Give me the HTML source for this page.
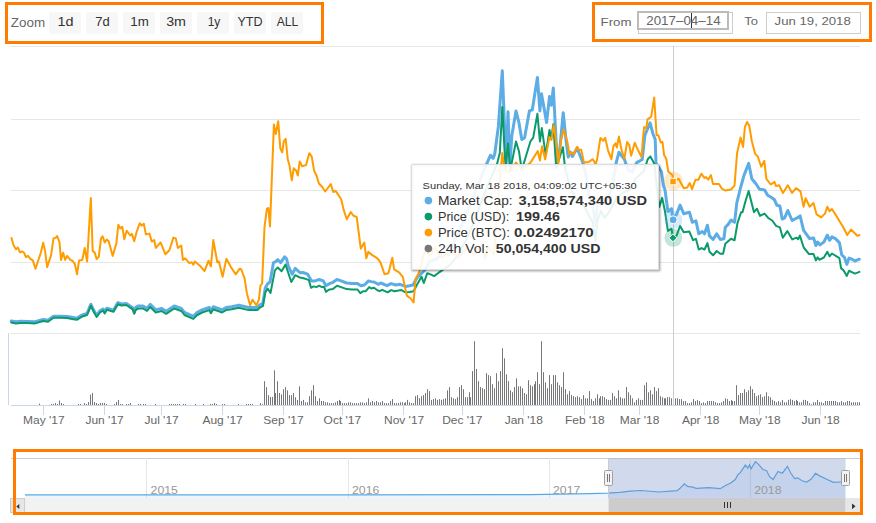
<!DOCTYPE html>
<html><head><meta charset="utf-8">
<style>
html,body{margin:0;padding:0;background:#fff;width:876px;height:523px;overflow:hidden;}
body{position:relative;font-family:"Liberation Sans",sans-serif;}
.abs{position:absolute;}
.obox{position:absolute;border:3px solid #ff7c00;box-sizing:border-box;}
.btn{position:absolute;top:12px;width:32px;height:22px;background:#f7f7f7;border-radius:2px;color:#333;font-size:12px;line-height:22px;text-align:center;}
.lbl{position:absolute;color:#666;font-size:12px;}
svg{position:absolute;left:0;top:0;}
.tt{position:absolute;font-size:12px;color:#333;white-space:nowrap;}
.tt b{font-weight:bold;}
.dot{display:inline-block;width:8px;height:8px;border-radius:50%;margin-right:5px;vertical-align:0px;}
</style></head><body>
<svg width="876" height="523" viewBox="0 0 876 523">
<rect x="11" y="46" width="849" height="1" fill="#e6e6e6"/><rect x="11" y="119" width="849" height="1" fill="#e6e6e6"/><rect x="11" y="190" width="849" height="1" fill="#e6e6e6"/><rect x="11" y="262" width="849" height="1" fill="#e6e6e6"/><rect x="11" y="333" width="849" height="1" fill="#e6e6e6"/>
<g fill="#777"><rect x="39" y="403.7" width="1" height="1.3"/><rect x="51" y="404.0" width="1" height="1.0"/><rect x="53" y="404.0" width="1" height="1.0"/><rect x="55" y="403.0" width="1" height="2.0"/><rect x="57" y="404.0" width="1" height="1.0"/><rect x="59" y="400.5" width="1" height="4.5"/><rect x="61" y="403.0" width="1" height="2.0"/><rect x="63" y="404.0" width="1" height="1.0"/><rect x="78" y="404.0" width="1" height="1.0"/><rect x="80" y="404.0" width="1" height="1.0"/><rect x="84" y="403.0" width="1" height="2.0"/><rect x="86" y="404.0" width="1" height="1.0"/><rect x="88" y="402.0" width="1" height="3.0"/><rect x="90" y="394.6" width="1" height="10.4"/><rect x="92" y="392.9" width="1" height="12.1"/><rect x="94" y="402.0" width="1" height="3.0"/><rect x="96" y="403.0" width="1" height="2.0"/><rect x="98" y="404.0" width="1" height="1.0"/><rect x="100" y="403.0" width="1" height="2.0"/><rect x="102" y="403.0" width="1" height="2.0"/><rect x="104" y="403.0" width="1" height="2.0"/><rect x="106" y="404.0" width="1" height="1.0"/><rect x="114" y="404.0" width="1" height="1.0"/><rect x="116" y="402.0" width="1" height="3.0"/><rect x="118" y="400.0" width="1" height="5.0"/><rect x="120" y="404.0" width="1" height="1.0"/><rect x="122" y="404.0" width="1" height="1.0"/><rect x="126" y="404.0" width="1" height="1.0"/><rect x="128" y="404.0" width="1" height="1.0"/><rect x="130" y="403.0" width="1" height="2.0"/><rect x="138" y="404.0" width="1" height="1.0"/><rect x="140" y="404.0" width="1" height="1.0"/><rect x="143" y="404.0" width="1" height="1.0"/><rect x="145" y="404.0" width="1" height="1.0"/><rect x="155" y="404.0" width="1" height="1.0"/><rect x="169" y="404.0" width="1" height="1.0"/><rect x="171" y="404.0" width="1" height="1.0"/><rect x="173" y="404.0" width="1" height="1.0"/><rect x="175" y="404.0" width="1" height="1.0"/><rect x="177" y="404.0" width="1" height="1.0"/><rect x="179" y="404.0" width="1" height="1.0"/><rect x="183" y="404.0" width="1" height="1.0"/><rect x="185" y="404.0" width="1" height="1.0"/><rect x="195" y="404.0" width="1" height="1.0"/><rect x="203" y="404.0" width="1" height="1.0"/><rect x="210" y="404.0" width="1" height="1.0"/><rect x="212" y="404.0" width="1" height="1.0"/><rect x="214" y="403.0" width="1" height="2.0"/><rect x="216" y="404.0" width="1" height="1.0"/><rect x="222" y="404.0" width="1" height="1.0"/><rect x="224" y="404.0" width="1" height="1.0"/><rect x="238" y="404.0" width="1" height="1.0"/><rect x="246" y="404.0" width="1" height="1.0"/><rect x="248" y="404.0" width="1" height="1.0"/><rect x="250" y="404.0" width="1" height="1.0"/><rect x="252" y="404.0" width="1" height="1.0"/><rect x="260" y="403.1" width="1" height="1.9"/><rect x="262" y="404.2" width="1" height="0.8"/><rect x="264" y="381.2" width="1" height="23.8"/><rect x="266" y="387.1" width="1" height="17.9"/><rect x="268" y="395.1" width="1" height="9.9"/><rect x="270" y="397.0" width="1" height="8.0"/><rect x="272" y="397.0" width="1" height="8.0"/><rect x="274" y="370.3" width="1" height="34.7"/><rect x="275" y="393.0" width="1" height="12.0"/><rect x="277" y="381.2" width="1" height="23.8"/><rect x="279" y="393.0" width="1" height="12.0"/><rect x="281" y="394.3" width="1" height="10.7"/><rect x="283" y="389.2" width="1" height="15.8"/><rect x="285" y="387.1" width="1" height="17.9"/><rect x="287" y="390.3" width="1" height="14.7"/><rect x="289" y="395.1" width="1" height="9.9"/><rect x="291" y="395.1" width="1" height="9.9"/><rect x="293" y="393.0" width="1" height="12.0"/><rect x="295" y="397.2" width="1" height="7.8"/><rect x="297" y="399.9" width="1" height="5.1"/><rect x="299" y="386.3" width="1" height="18.7"/><rect x="301" y="401.0" width="1" height="4.0"/><rect x="303" y="399.9" width="1" height="5.1"/><rect x="305" y="402.3" width="1" height="2.7"/><rect x="307" y="402.3" width="1" height="2.7"/><rect x="309" y="396.2" width="1" height="8.8"/><rect x="311" y="390.3" width="1" height="14.7"/><rect x="313" y="385.2" width="1" height="19.8"/><rect x="315" y="396.2" width="1" height="8.8"/><rect x="317" y="401.0" width="1" height="4.0"/><rect x="319" y="398.3" width="1" height="6.7"/><rect x="321" y="401.0" width="1" height="4.0"/><rect x="323" y="401.0" width="1" height="4.0"/><rect x="325" y="402.3" width="1" height="2.7"/><rect x="327" y="402.3" width="1" height="2.7"/><rect x="329" y="403.1" width="1" height="1.9"/><rect x="331" y="403.1" width="1" height="1.9"/><rect x="333" y="403.1" width="1" height="1.9"/><rect x="335" y="402.3" width="1" height="2.7"/><rect x="337" y="401.0" width="1" height="4.0"/><rect x="339" y="399.9" width="1" height="5.1"/><rect x="340" y="401.0" width="1" height="4.0"/><rect x="342" y="403.1" width="1" height="1.9"/><rect x="344" y="403.1" width="1" height="1.9"/><rect x="346" y="403.1" width="1" height="1.9"/><rect x="348" y="402.3" width="1" height="2.7"/><rect x="350" y="402.3" width="1" height="2.7"/><rect x="352" y="403.1" width="1" height="1.9"/><rect x="354" y="403.1" width="1" height="1.9"/><rect x="356" y="403.1" width="1" height="1.9"/><rect x="358" y="403.1" width="1" height="1.9"/><rect x="360" y="402.3" width="1" height="2.7"/><rect x="362" y="402.3" width="1" height="2.7"/><rect x="364" y="403.1" width="1" height="1.9"/><rect x="366" y="402.3" width="1" height="2.7"/><rect x="368" y="398.3" width="1" height="6.7"/><rect x="370" y="402.3" width="1" height="2.7"/><rect x="372" y="401.0" width="1" height="4.0"/><rect x="374" y="402.3" width="1" height="2.7"/><rect x="376" y="401.0" width="1" height="4.0"/><rect x="378" y="402.3" width="1" height="2.7"/><rect x="380" y="402.3" width="1" height="2.7"/><rect x="382" y="401.0" width="1" height="4.0"/><rect x="384" y="403.1" width="1" height="1.9"/><rect x="386" y="403.1" width="1" height="1.9"/><rect x="388" y="403.1" width="1" height="1.9"/><rect x="390" y="401.0" width="1" height="4.0"/><rect x="392" y="399.1" width="1" height="5.9"/><rect x="394" y="403.1" width="1" height="1.9"/><rect x="396" y="403.1" width="1" height="1.9"/><rect x="398" y="403.1" width="1" height="1.9"/><rect x="400" y="402.3" width="1" height="2.7"/><rect x="402" y="402.3" width="1" height="2.7"/><rect x="404" y="403.1" width="1" height="1.9"/><rect x="405" y="402.3" width="1" height="2.7"/><rect x="407" y="399.9" width="1" height="5.1"/><rect x="409" y="402.3" width="1" height="2.7"/><rect x="411" y="403.1" width="1" height="1.9"/><rect x="413" y="403.1" width="1" height="1.9"/><rect x="415" y="396.2" width="1" height="8.8"/><rect x="417" y="395.1" width="1" height="9.9"/><rect x="419" y="398.3" width="1" height="6.7"/><rect x="421" y="396.2" width="1" height="8.8"/><rect x="423" y="395.1" width="1" height="9.9"/><rect x="425" y="393.0" width="1" height="12.0"/><rect x="427" y="389.2" width="1" height="15.8"/><rect x="429" y="391.1" width="1" height="13.9"/><rect x="431" y="399.9" width="1" height="5.1"/><rect x="433" y="399.1" width="1" height="5.9"/><rect x="435" y="398.3" width="1" height="6.7"/><rect x="437" y="399.9" width="1" height="5.1"/><rect x="439" y="399.1" width="1" height="5.9"/><rect x="441" y="399.9" width="1" height="5.1"/><rect x="443" y="399.1" width="1" height="5.9"/><rect x="445" y="398.3" width="1" height="6.7"/><rect x="447" y="390.3" width="1" height="14.7"/><rect x="449" y="387.1" width="1" height="17.9"/><rect x="451" y="397.2" width="1" height="7.8"/><rect x="453" y="398.3" width="1" height="6.7"/><rect x="455" y="399.1" width="1" height="5.9"/><rect x="457" y="397.2" width="1" height="7.8"/><rect x="459" y="387.1" width="1" height="17.9"/><rect x="461" y="385.2" width="1" height="19.8"/><rect x="463" y="389.2" width="1" height="15.8"/><rect x="465" y="397.2" width="1" height="7.8"/><rect x="467" y="397.2" width="1" height="7.8"/><rect x="469" y="392.2" width="1" height="12.8"/><rect x="470" y="397.2" width="1" height="7.8"/><rect x="472" y="371.1" width="1" height="33.9"/><rect x="474" y="341.2" width="1" height="63.8"/><rect x="476" y="369.0" width="1" height="36.0"/><rect x="478" y="381.2" width="1" height="23.8"/><rect x="480" y="387.1" width="1" height="17.9"/><rect x="482" y="388.2" width="1" height="16.8"/><rect x="484" y="389.2" width="1" height="15.8"/><rect x="486" y="373.2" width="1" height="31.8"/><rect x="488" y="375.1" width="1" height="29.9"/><rect x="490" y="376.2" width="1" height="28.8"/><rect x="492" y="384.2" width="1" height="20.8"/><rect x="494" y="388.2" width="1" height="16.8"/><rect x="496" y="373.2" width="1" height="31.8"/><rect x="498" y="381.2" width="1" height="23.8"/><rect x="500" y="371.1" width="1" height="33.9"/><rect x="502" y="348.3" width="1" height="56.7"/><rect x="504" y="358.3" width="1" height="46.7"/><rect x="506" y="374.3" width="1" height="30.7"/><rect x="508" y="381.2" width="1" height="23.8"/><rect x="510" y="390.3" width="1" height="14.7"/><rect x="512" y="392.2" width="1" height="12.8"/><rect x="514" y="387.1" width="1" height="17.9"/><rect x="516" y="378.3" width="1" height="26.7"/><rect x="518" y="386.3" width="1" height="18.7"/><rect x="520" y="386.3" width="1" height="18.7"/><rect x="522" y="388.2" width="1" height="16.8"/><rect x="524" y="393.0" width="1" height="12.0"/><rect x="526" y="394.3" width="1" height="10.7"/><rect x="528" y="380.2" width="1" height="24.8"/><rect x="530" y="385.2" width="1" height="19.8"/><rect x="532" y="386.3" width="1" height="18.7"/><rect x="534" y="384.2" width="1" height="20.8"/><rect x="535" y="381.2" width="1" height="23.8"/><rect x="537" y="372.2" width="1" height="32.8"/><rect x="539" y="384.2" width="1" height="20.8"/><rect x="541" y="341.2" width="1" height="63.8"/><rect x="543" y="372.2" width="1" height="32.8"/><rect x="545" y="382.3" width="1" height="22.7"/><rect x="547" y="388.2" width="1" height="16.8"/><rect x="549" y="375.1" width="1" height="29.9"/><rect x="551" y="384.2" width="1" height="20.8"/><rect x="553" y="375.1" width="1" height="29.9"/><rect x="555" y="375.1" width="1" height="29.9"/><rect x="557" y="382.3" width="1" height="22.7"/><rect x="559" y="385.2" width="1" height="19.8"/><rect x="561" y="387.1" width="1" height="17.9"/><rect x="563" y="372.2" width="1" height="32.8"/><rect x="565" y="389.2" width="1" height="15.8"/><rect x="567" y="394.3" width="1" height="10.7"/><rect x="569" y="391.1" width="1" height="13.9"/><rect x="571" y="395.1" width="1" height="9.9"/><rect x="573" y="396.2" width="1" height="8.8"/><rect x="575" y="397.2" width="1" height="7.8"/><rect x="577" y="396.2" width="1" height="8.8"/><rect x="579" y="397.2" width="1" height="7.8"/><rect x="581" y="399.1" width="1" height="5.9"/><rect x="583" y="395.1" width="1" height="9.9"/><rect x="585" y="398.3" width="1" height="6.7"/><rect x="587" y="398.3" width="1" height="6.7"/><rect x="589" y="391.1" width="1" height="13.9"/><rect x="591" y="399.1" width="1" height="5.9"/><rect x="593" y="401.0" width="1" height="4.0"/><rect x="595" y="398.3" width="1" height="6.7"/><rect x="597" y="394.3" width="1" height="10.7"/><rect x="599" y="398.3" width="1" height="6.7"/><rect x="600" y="396.2" width="1" height="8.8"/><rect x="602" y="396.2" width="1" height="8.8"/><rect x="604" y="397.2" width="1" height="7.8"/><rect x="606" y="399.1" width="1" height="5.9"/><rect x="608" y="399.9" width="1" height="5.1"/><rect x="610" y="399.9" width="1" height="5.1"/><rect x="612" y="393.0" width="1" height="12.0"/><rect x="614" y="396.2" width="1" height="8.8"/><rect x="616" y="398.3" width="1" height="6.7"/><rect x="618" y="390.3" width="1" height="14.7"/><rect x="620" y="397.2" width="1" height="7.8"/><rect x="622" y="398.3" width="1" height="6.7"/><rect x="624" y="398.3" width="1" height="6.7"/><rect x="626" y="387.1" width="1" height="17.9"/><rect x="628" y="392.2" width="1" height="12.8"/><rect x="630" y="395.1" width="1" height="9.9"/><rect x="632" y="398.3" width="1" height="6.7"/><rect x="634" y="402.3" width="1" height="2.7"/><rect x="636" y="399.9" width="1" height="5.1"/><rect x="638" y="398.3" width="1" height="6.7"/><rect x="640" y="399.9" width="1" height="5.1"/><rect x="642" y="399.9" width="1" height="5.1"/><rect x="644" y="385.2" width="1" height="19.8"/><rect x="646" y="382.3" width="1" height="22.7"/><rect x="648" y="392.2" width="1" height="12.8"/><rect x="650" y="390.3" width="1" height="14.7"/><rect x="652" y="394.3" width="1" height="10.7"/><rect x="654" y="387.1" width="1" height="17.9"/><rect x="656" y="391.1" width="1" height="13.9"/><rect x="658" y="388.2" width="1" height="16.8"/><rect x="660" y="396.2" width="1" height="8.8"/><rect x="662" y="397.2" width="1" height="7.8"/><rect x="664" y="398.3" width="1" height="6.7"/><rect x="665" y="398.3" width="1" height="6.7"/><rect x="667" y="397.2" width="1" height="7.8"/><rect x="669" y="397.2" width="1" height="7.8"/><rect x="671" y="398.3" width="1" height="6.7"/><rect x="673" y="399.9" width="1" height="5.1"/><rect x="675" y="398.3" width="1" height="6.7"/><rect x="677" y="398.3" width="1" height="6.7"/><rect x="679" y="399.1" width="1" height="5.9"/><rect x="681" y="399.1" width="1" height="5.9"/><rect x="683" y="401.0" width="1" height="4.0"/><rect x="685" y="401.0" width="1" height="4.0"/><rect x="687" y="403.1" width="1" height="1.9"/><rect x="689" y="403.1" width="1" height="1.9"/><rect x="691" y="402.3" width="1" height="2.7"/><rect x="693" y="399.1" width="1" height="5.9"/><rect x="695" y="401.0" width="1" height="4.0"/><rect x="697" y="399.9" width="1" height="5.1"/><rect x="699" y="401.0" width="1" height="4.0"/><rect x="701" y="403.1" width="1" height="1.9"/><rect x="703" y="402.3" width="1" height="2.7"/><rect x="705" y="403.1" width="1" height="1.9"/><rect x="707" y="401.0" width="1" height="4.0"/><rect x="709" y="401.0" width="1" height="4.0"/><rect x="711" y="401.0" width="1" height="4.0"/><rect x="713" y="401.0" width="1" height="4.0"/><rect x="715" y="402.3" width="1" height="2.7"/><rect x="717" y="403.1" width="1" height="1.9"/><rect x="719" y="403.1" width="1" height="1.9"/><rect x="721" y="402.3" width="1" height="2.7"/><rect x="723" y="401.0" width="1" height="4.0"/><rect x="725" y="398.3" width="1" height="6.7"/><rect x="727" y="399.1" width="1" height="5.9"/><rect x="729" y="401.0" width="1" height="4.0"/><rect x="731" y="399.9" width="1" height="5.1"/><rect x="732" y="401.0" width="1" height="4.0"/><rect x="734" y="401.0" width="1" height="4.0"/><rect x="736" y="385.2" width="1" height="19.8"/><rect x="738" y="395.1" width="1" height="9.9"/><rect x="740" y="393.0" width="1" height="12.0"/><rect x="742" y="393.0" width="1" height="12.0"/><rect x="744" y="389.2" width="1" height="15.8"/><rect x="746" y="392.2" width="1" height="12.8"/><rect x="748" y="390.3" width="1" height="14.7"/><rect x="750" y="386.3" width="1" height="18.7"/><rect x="752" y="389.2" width="1" height="15.8"/><rect x="754" y="393.0" width="1" height="12.0"/><rect x="756" y="396.2" width="1" height="8.8"/><rect x="758" y="395.1" width="1" height="9.9"/><rect x="760" y="394.3" width="1" height="10.7"/><rect x="762" y="397.2" width="1" height="7.8"/><rect x="764" y="396.2" width="1" height="8.8"/><rect x="766" y="392.2" width="1" height="12.8"/><rect x="768" y="396.2" width="1" height="8.8"/><rect x="770" y="397.2" width="1" height="7.8"/><rect x="772" y="399.9" width="1" height="5.1"/><rect x="774" y="401.0" width="1" height="4.0"/><rect x="776" y="402.3" width="1" height="2.7"/><rect x="778" y="401.0" width="1" height="4.0"/><rect x="780" y="402.3" width="1" height="2.7"/><rect x="782" y="399.9" width="1" height="5.1"/><rect x="784" y="402.3" width="1" height="2.7"/><rect x="786" y="402.3" width="1" height="2.7"/><rect x="788" y="399.9" width="1" height="5.1"/><rect x="790" y="399.1" width="1" height="5.9"/><rect x="792" y="399.9" width="1" height="5.1"/><rect x="794" y="401.0" width="1" height="4.0"/><rect x="796" y="399.9" width="1" height="5.1"/><rect x="797" y="401.0" width="1" height="4.0"/><rect x="799" y="402.3" width="1" height="2.7"/><rect x="801" y="402.3" width="1" height="2.7"/><rect x="803" y="399.9" width="1" height="5.1"/><rect x="805" y="399.9" width="1" height="5.1"/><rect x="807" y="401.0" width="1" height="4.0"/><rect x="809" y="403.1" width="1" height="1.9"/><rect x="811" y="404.2" width="1" height="0.8"/><rect x="813" y="402.3" width="1" height="2.7"/><rect x="815" y="402.3" width="1" height="2.7"/><rect x="817" y="399.9" width="1" height="5.1"/><rect x="819" y="402.3" width="1" height="2.7"/><rect x="821" y="402.3" width="1" height="2.7"/><rect x="823" y="403.1" width="1" height="1.9"/><rect x="825" y="401.0" width="1" height="4.0"/><rect x="827" y="401.0" width="1" height="4.0"/><rect x="829" y="401.0" width="1" height="4.0"/><rect x="831" y="401.0" width="1" height="4.0"/><rect x="833" y="401.0" width="1" height="4.0"/><rect x="835" y="401.0" width="1" height="4.0"/><rect x="837" y="402.3" width="1" height="2.7"/><rect x="839" y="402.3" width="1" height="2.7"/><rect x="841" y="401.0" width="1" height="4.0"/><rect x="843" y="402.3" width="1" height="2.7"/><rect x="845" y="402.3" width="1" height="2.7"/><rect x="847" y="401.0" width="1" height="4.0"/><rect x="849" y="401.0" width="1" height="4.0"/><rect x="851" y="402.3" width="1" height="2.7"/><rect x="853" y="402.3" width="1" height="2.7"/><rect x="855" y="402.3" width="1" height="2.7"/><rect x="857" y="402.3" width="1" height="2.7"/><rect x="859" y="402.3" width="1" height="2.7"/></g>
<rect x="8" y="333" width="1" height="72" fill="#ccd6eb"/>
<rect x="11" y="405" width="849" height="1" fill="#ccd6eb"/>
<rect x="43" y="405" width="1" height="10" fill="#ccd6eb"/><rect x="104" y="405" width="1" height="10" fill="#ccd6eb"/><rect x="161" y="405" width="1" height="10" fill="#ccd6eb"/><rect x="222" y="405" width="1" height="10" fill="#ccd6eb"/><rect x="283" y="405" width="1" height="10" fill="#ccd6eb"/><rect x="342" y="405" width="1" height="10" fill="#ccd6eb"/><rect x="403" y="405" width="1" height="10" fill="#ccd6eb"/><rect x="462" y="405" width="1" height="10" fill="#ccd6eb"/><rect x="523" y="405" width="1" height="10" fill="#ccd6eb"/><rect x="584" y="405" width="1" height="10" fill="#ccd6eb"/><rect x="639" y="405" width="1" height="10" fill="#ccd6eb"/><rect x="700" y="405" width="1" height="10" fill="#ccd6eb"/><rect x="759" y="405" width="1" height="10" fill="#ccd6eb"/><rect x="820" y="405" width="1" height="10" fill="#ccd6eb"/>
<rect x="673" y="46" width="1" height="359" fill="#cccccc"/>
<g fill="none" stroke-linejoin="round" stroke-linecap="round">
<path d="M11.2 321.0 L16.0 321.8 L20.8 321.3 L27.2 321.4 L35.2 321.8 L43.2 319.4 L48.0 320.2 L53.5 316.2 L60.7 316.2 L67.1 316.5 L71.9 317.3 L76.7 318.2 L79.9 316.2 L83.1 314.6 L87.1 313.4 L90.8 304.2 L93.5 309.8 L96.7 315.4 L99.9 310.9 L103.1 309.0 L104.7 311.8 L106.8 308.2 L113.5 310.2 L117.9 302.6 L121.5 303.9 L126.3 303.4 L132.7 307.7 L134.2 312.2 L135.8 307.2 L138.2 305.9 L143.0 305.9 L147.0 308.4 L150.2 304.4 L155.8 309.9 L161.4 308.4 L166.2 311.2 L174.2 305.9 L181.3 308.4 L184.5 312.4 L193.3 316.3 L197.3 312.4 L202.1 309.9 L209.3 307.5 L210.9 310.7 L213.3 306.7 L222.1 309.9 L226.1 307.5 L231.7 306.7 L238.9 305.1 L248.5 307.5 L257.3 307.5 L259.7 305.1 L262.9 303.2 L265.3 287.8 L267.7 283.8 L270.0 282.0 L273.5 262.6 L275.8 261.6 L277.8 259.7 L280.7 262.6 L284.6 256.8 L286.5 258.7 L288.4 266.5 L292.3 274.3 L295.2 268.4 L300.0 272.7 L303.0 272.5 L307.5 274.1 L311.6 280.9 L315.1 280.9 L319.2 279.5 L323.3 280.9 L326.0 285.7 L329.5 283.6 L332.9 282.3 L337.0 279.5 L341.1 280.9 L346.6 283.0 L352.0 283.6 L357.5 283.6 L361.0 285.7 L364.4 285.0 L368.5 280.9 L371.2 281.6 L374.7 282.3 L378.1 284.3 L380.8 283.0 L387.0 285.7 L391.1 283.6 L395.9 285.0 L400.0 284.3 L405.5 286.4 L409.6 285.7 L413.0 285.0 L416.4 278.8 L418.0 276.7 L421.5 273.3 L424.9 270.0 L430.0 261.0 L437.0 259.0 L443.0 251.5 L449.0 255.0 L455.0 240.0 L462.0 225.0 L470.0 205.0 L478.0 185.0 L486.8 163.6 L490.5 155.2 L493.1 158.4 L494.7 154.2 L498.4 126.2 L502.3 70.7 L506.1 166.0 L508.0 111.8 L509.9 166.0 L511.8 135.7 L516.0 110.9 L518.9 122.4 L521.8 139.6 L524.6 137.7 L529.4 110.9 L532.3 109.9 L537.4 77.4 L539.9 110.9 L541.5 93.7 L546.6 122.4 L549.5 96.5 L551.4 105.2 L553.3 88.0 L557.1 160.0 L560.0 147.2 L563.2 112.7 L566.0 140.0 L568.2 157.0 L570.0 152.0 L572.4 156.5 L577.1 148.0 L582.6 162.0 L586.0 175.0 L589.0 195.0 L592.7 205.0 L595.5 225.0 L597.5 205.0 L601.0 197.0 L604.4 203.0 L608.5 197.0 L612.6 185.0 L616.2 162.6 L618.9 152.3 L624.4 159.2 L628.0 170.0 L632.0 172.0 L636.7 162.6 L642.2 159.5 L644.9 135.2 L650.1 122.8 L653.0 134.0 L655.2 139.3 L656.0 163.3 L661.4 171.5 L663.4 185.2 L665.0 190.0 L667.9 211.5 L671.5 208.7 L672.9 219.4 L676.5 214.4 L680.1 205.1 L683.7 213.7 L689.4 212.2 L692.3 222.3 L695.9 220.8 L698.8 233.8 L702.3 231.6 L704.5 233.8 L707.4 225.2 L709.5 235.9 L713.1 239.5 L716.7 233.8 L720.3 239.5 L723.9 238.8 L725.3 227.3 L728.2 224.4 L731.0 220.1 L734.6 222.3 L736.8 202.9 L740.6 187.5 L744.0 175.4 L748.7 163.4 L751.8 178.8 L756.1 184.0 L759.5 189.2 L764.6 189.9 L767.6 195.2 L771.5 197.5 L774.5 199.8 L776.8 205.2 L779.9 206.0 L782.2 219.0 L784.5 218.2 L787.8 210.5 L792.1 220.5 L796.7 218.2 L800.1 215.9 L803.6 230.4 L809.6 238.6 L813.6 238.0 L815.9 245.5 L817.6 242.0 L819.9 244.9 L823.9 242.0 L827.3 235.2 L829.6 240.3 L831.9 236.9 L835.4 238.6 L839.4 242.6 L841.7 254.7 L844.5 257.5 L846.8 264.4 L849.1 258.1 L852.0 259.2 L854.9 261.0 L859.4 259.2" stroke="#5cade6" stroke-width="3"/>
<path d="M11.2 322.6 L16.0 323.4 L20.8 322.9 L27.2 323.0 L35.2 323.4 L43.2 321.0 L48.0 321.8 L53.5 317.8 L60.7 317.8 L67.1 318.1 L71.9 318.9 L76.7 319.8 L79.9 317.8 L83.1 316.2 L87.1 315.0 L90.8 305.8 L93.5 311.4 L96.7 317.0 L99.9 312.5 L103.1 310.6 L104.7 313.4 L106.8 309.8 L113.5 311.8 L117.9 304.2 L121.5 305.5 L126.3 305.0 L132.7 309.3 L134.2 313.8 L135.8 309.8 L138.2 308.5 L143.0 308.5 L147.0 311.0 L150.2 307.0 L155.8 312.5 L161.4 311.0 L166.2 313.8 L174.2 308.5 L181.3 311.0 L184.5 315.0 L193.3 318.9 L197.3 315.0 L202.1 312.5 L209.3 310.1 L210.9 313.3 L213.3 309.3 L222.1 312.5 L226.1 310.1 L231.7 309.3 L238.9 307.7 L248.5 310.1 L257.3 310.1 L259.7 307.7 L262.9 306.1 L265.3 292.6 L267.7 288.6 L270.5 293.0 L274.9 270.4 L277.8 267.5 L281.6 271.3 L285.5 264.6 L288.4 273.3 L291.3 282.0 L295.2 275.2 L300.0 277.5 L305.5 278.8 L308.9 280.2 L311.0 287.8 L313.7 286.4 L316.4 287.1 L319.2 285.7 L321.9 287.1 L324.0 286.8 L326.0 291.9 L328.8 289.8 L332.9 289.1 L337.0 285.7 L341.1 287.1 L346.6 289.1 L352.0 289.5 L357.5 289.5 L360.3 293.2 L363.0 291.2 L365.8 291.2 L369.2 287.1 L371.2 288.4 L374.0 287.8 L376.7 289.8 L379.5 291.2 L382.2 289.8 L387.7 292.3 L391.1 290.1 L394.5 291.2 L398.6 290.5 L401.4 290.1 L405.5 292.3 L409.6 291.9 L413.7 291.2 L416.4 285.7 L421.5 276.7 L423.8 283.0 L427.2 273.3 L430.6 274.4 L434.1 276.1 L438.7 272.7 L442.7 270.0 L450.0 265.0 L458.0 255.0 L466.0 240.0 L474.0 222.0 L482.0 200.0 L490.0 180.0 L496.9 164.4 L499.8 153.0 L502.3 107.1 L505.5 168.0 L508.0 143.4 L510.3 170.0 L516.0 141.5 L518.9 151.0 L521.8 170.0 L530.4 141.5 L533.2 137.7 L537.4 113.8 L539.9 141.5 L541.8 128.1 L545.7 154.9 L549.5 130.0 L551.4 137.7 L553.3 124.3 L556.2 168.0 L562.9 147.2 L565.0 168.0 L568.0 180.0 L572.0 192.0 L576.0 198.0 L580.0 200.0 L585.2 208.2 L589.3 216.4 L592.7 221.9 L595.5 241.0 L597.5 220.5 L601.0 211.0 L604.4 217.8 L608.5 213.0 L612.6 205.5 L617.0 197.0 L624.0 192.0 L630.0 190.0 L636.0 178.0 L644.0 171.0 L647.7 159.2 L650.4 156.4 L654.5 164.0 L657.0 190.0 L659.3 207.0 L662.2 197.9 L665.0 211.5 L667.9 230.9 L671.5 228.7 L672.9 238.1 L676.5 235.9 L680.1 225.9 L683.7 232.3 L689.4 231.6 L693.0 240.2 L695.9 238.8 L698.8 249.5 L701.6 248.1 L704.5 249.5 L707.4 243.1 L709.5 251.7 L713.1 255.3 L716.7 251.0 L720.3 253.8 L723.1 253.8 L725.3 243.8 L731.0 238.8 L734.6 240.2 L737.5 223.0 L741.1 212.2 L742.5 212.2 L745.4 201.5 L748.6 191.0 L754.0 212.2 L756.9 208.7 L760.0 215.9 L764.6 213.6 L768.4 218.2 L772.2 220.5 L776.1 225.8 L779.9 227.4 L782.8 237.7 L787.3 231.1 L792.3 239.4 L796.5 237.6 L798.1 239.2 L799.9 235.6 L803.7 247.5 L809.0 254.1 L813.6 254.1 L815.9 260.4 L817.6 257.3 L819.3 259.8 L823.9 257.5 L827.3 251.8 L829.6 256.4 L831.9 253.5 L839.4 258.1 L841.1 268.4 L843.4 270.1 L846.8 275.9 L849.1 270.7 L851.4 271.9 L854.9 273.6 L859.4 271.9" stroke="#0a9a6b" stroke-width="2"/>
<path d="M11.5 238.0 L13.6 245.5 L16.0 249.2 L17.9 247.6 L20.0 252.4 L22.4 251.5 L24.0 252.7 L25.9 257.2 L28.0 255.9 L30.4 258.8 L32.8 260.4 L35.5 268.7 L38.4 260.0 L40.8 252.7 L43.2 242.8 L45.1 251.1 L47.1 267.1 L51.1 255.1 L53.5 238.4 L55.9 237.6 L57.2 236.0 L59.5 242.4 L61.0 259.9 L63.1 252.7 L65.2 259.9 L67.1 255.9 L70.3 259.9 L72.7 261.0 L74.8 263.9 L77.0 274.3 L79.1 260.4 L82.3 259.9 L84.7 248.0 L87.1 261.5 L90.8 198.0 L92.7 251.1 L94.6 252.4 L96.7 259.1 L98.8 256.7 L101.0 238.4 L102.6 236.4 L104.7 242.4 L106.8 239.6 L108.7 241.2 L112.7 255.9 L116.4 243.2 L118.3 224.8 L120.2 228.4 L122.3 226.8 L124.3 239.2 L126.6 230.7 L130.3 235.5 L131.9 233.9 L134.2 241.2 L136.6 232.0 L139.8 223.2 L141.7 225.6 L143.8 223.7 L145.9 234.4 L149.4 233.6 L151.8 241.6 L154.2 240.0 L155.8 247.9 L160.6 242.4 L165.4 254.3 L169.4 250.3 L173.4 237.6 L175.8 238.4 L177.8 247.9 L181.3 245.5 L182.9 259.9 L185.3 258.3 L189.3 263.1 L191.7 262.3 L193.3 264.7 L194.9 261.5 L200.5 266.3 L204.5 271.1 L208.5 260.7 L210.9 266.3 L213.3 240.0 L217.3 262.3 L218.9 261.5 L222.6 276.7 L226.4 258.8 L230.9 267.1 L235.7 274.3 L239.7 268.7 L241.3 269.5 L244.5 278.2 L246.9 293.4 L250.1 305.3 L252.5 299.7 L256.5 305.3 L258.9 299.7 L260.5 285.4 L262.1 283.8 L264.5 227.2 L266.9 208.8 L268.4 208.0 L270.0 226.4 L273.9 124.4 L275.8 134.0 L278.2 121.2 L280.3 148.4 L282.2 152.4 L283.8 141.2 L285.7 138.8 L287.8 159.5 L289.4 165.1 L291.8 180.3 L293.7 168.3 L296.2 170.7 L297.8 175.5 L299.7 161.5 L302.1 166.3 L306.1 165.1 L309.3 153.2 L311.7 156.3 L314.1 170.7 L316.5 175.5 L318.9 183.5 L322.1 186.7 L325.2 191.5 L330.8 184.0 L333.2 192.0 L335.6 190.9 L341.2 199.2 L343.6 209.6 L346.8 219.2 L350.8 212.0 L353.2 215.5 L356.7 217.1 L360.8 248.7 L364.3 242.6 L366.3 258.3 L368.3 251.9 L372.3 255.1 L376.7 257.8 L378.7 259.9 L380.6 262.6 L384.5 274.3 L388.4 273.3 L392.3 257.8 L394.2 269.4 L399.1 272.3 L402.9 277.2 L406.8 295.6 L410.7 298.5 L413.6 302.4 L415.5 279.1 L419.7 271.0 L420.4 267.5 L425.0 250.0 L430.0 256.0 L435.0 248.0 L442.0 258.0 L450.0 250.0 L458.0 258.0 L466.0 248.0 L474.0 255.0 L482.0 244.0 L485.0 259.0 L488.0 246.0 L494.0 255.0 L498.0 200.0 L502.3 153.0 L504.6 170.0 L510.0 172.0 L516.0 162.5 L522.0 170.0 L530.5 162.6 L537.8 151.0 L539.9 160.5 L542.0 146.3 L545.2 159.4 L549.4 137.3 L551.5 140.0 L553.6 125.2 L555.7 139.4 L558.3 163.6 L561.0 140.5 L563.6 129.5 L567.3 141.5 L569.4 154.2 L571.6 152.3 L573.7 154.4 L577.1 146.8 L579.2 150.3 L581.2 149.6 L584.0 162.6 L588.8 161.9 L592.9 159.2 L595.6 164.0 L597.0 159.9 L600.4 137.9 L603.2 140.7 L605.2 137.9 L608.0 150.3 L611.4 159.2 L613.4 146.2 L615.5 143.4 L616.8 147.5 L618.9 136.6 L621.6 150.3 L624.4 158.5 L627.1 142.1 L629.2 144.8 L631.2 155.8 L634.7 142.7 L638.1 150.3 L641.5 157.1 L643.3 134.7 L644.2 127.0 L646.3 128.4 L647.5 119.4 L651.2 116.8 L654.2 97.5 L656.6 135.2 L658.4 135.2 L660.7 142.4 L662.5 142.1 L664.1 155.1 L666.2 158.5 L668.2 171.5 L672.3 174.9 L673.4 181.4 L678.6 178.8 L683.8 188.3 L687.2 187.5 L689.8 183.1 L692.0 189.2 L695.5 179.7 L698.4 179.7 L701.3 173.7 L704.4 178.0 L706.1 177.1 L708.2 179.7 L711.0 175.1 L713.0 184.0 L719.0 184.0 L721.6 188.3 L725.1 190.5 L731.1 189.5 L734.5 185.7 L737.1 153.0 L740.6 137.5 L743.1 147.0 L744.9 127.2 L747.1 122.0 L749.2 125.5 L751.8 141.0 L755.2 153.9 L757.8 156.5 L761.2 166.8 L764.3 160.8 L766.4 178.8 L770.7 184.5 L774.5 181.9 L776.1 186.1 L779.1 185.3 L783.0 193.0 L787.8 185.3 L792.1 193.0 L796.0 188.1 L800.5 191.4 L803.6 206.7 L805.6 198.3 L809.7 206.7 L813.5 202.9 L816.6 214.4 L821.2 217.4 L825.0 213.6 L827.3 206.7 L829.6 211.3 L831.9 209.0 L837.3 217.4 L843.4 227.5 L847.2 235.0 L851.0 229.5 L857.2 235.8 L859.4 235.0" stroke="#ff9c00" stroke-width="2"/>
</g>
<circle cx="673.3" cy="181" r="9.5" fill="#ff9c00" fill-opacity="0.22"/>
<rect x="669.8" y="178.3" width="6.5" height="6.5" fill="#ff9c00" stroke="#fff" stroke-width="1"/>
<circle cx="673.4" cy="219.8" r="9" fill="#5cade6" fill-opacity="0.25"/>
<circle cx="673.1" cy="219.8" r="4" fill="#5cade6" stroke="#fff" stroke-width="1"/>
<circle cx="673.4" cy="237.8" r="9" fill="#0a9a6b" fill-opacity="0.25"/>
<path d="M673 233.8 L677 237.8 L673 241.8 L669 237.8 Z" fill="#0a9a6b" stroke="#fff" stroke-width="1"/>
<!-- tooltip -->
<g transform="translate(1,1)" fill="none" stroke="#000">
<rect x="411.5" y="164.5" width="247" height="105" rx="1" stroke-opacity="0.05" stroke-width="5"/>
<rect x="411.5" y="164.5" width="247" height="105" rx="1" stroke-opacity="0.1" stroke-width="3"/>
<rect x="411.5" y="164.5" width="247" height="105" rx="1" stroke-opacity="0.15" stroke-width="1"/>
</g>
<rect x="411.5" y="164.5" width="247" height="105" rx="1" fill="#fff" fill-opacity="0.9" stroke="#dddddd" stroke-width="1"/>
<!-- navigator -->
<rect x="11" y="458" width="849" height="1" fill="#cccccc"/>
<rect x="146" y="458" width="1" height="40" fill="#e6e6e6"/>
<rect x="348" y="458" width="1" height="40" fill="#e6e6e6"/>
<rect x="549" y="458" width="1" height="40" fill="#e6e6e6"/>
<rect x="750" y="458" width="1" height="40" fill="#e6e6e6"/>
<path d="M25.0 494.8 L146.0 494.8 L348.0 494.8 L530.0 494.6 L590.0 493.6 L607.9 493.2 L619.8 492.4 L630.2 491.2 L640.7 490.5 L658.6 492.0 L677.2 490.6 L680.0 488.3 L684.4 483.9 L687.5 486.4 L692.6 487.1 L696.3 488.3 L708.9 487.7 L720.2 488.7 L725.9 485.2 L730.3 483.3 L735.3 479.5 L738.0 474.5 L740.3 472.6 L745.3 465.1 L747.8 468.2 L749.5 464.8 L751.0 468.8 L755.4 461.6 L758.5 464.4 L762.9 469.5 L766.7 470.7 L769.4 476.4 L773.0 479.5 L778.0 471.4 L782.4 473.2 L787.4 466.3 L790.9 473.3 L794.6 478.5 L797.6 477.8 L802.1 480.8 L806.6 482.0 L811.0 479.3 L815.5 473.3 L819.2 475.6 L826.7 479.3 L833.4 482.3 L840.8 482.0 L845.0 482.0 L845 497.7 L25 497.7 Z" fill="#7cb5ec" fill-opacity="0.14"/>
<path d="M25.0 494.8 L146.0 494.8 L348.0 494.8 L530.0 494.6 L590.0 493.6 L607.9 493.2 L619.8 492.4 L630.2 491.2 L640.7 490.5 L658.6 492.0 L677.2 490.6 L680.0 488.3 L684.4 483.9 L687.5 486.4 L692.6 487.1 L696.3 488.3 L708.9 487.7 L720.2 488.7 L725.9 485.2 L730.3 483.3 L735.3 479.5 L738.0 474.5 L740.3 472.6 L745.3 465.1 L747.8 468.2 L749.5 464.8 L751.0 468.8 L755.4 461.6 L758.5 464.4 L762.9 469.5 L766.7 470.7 L769.4 476.4 L773.0 479.5 L778.0 471.4 L782.4 473.2 L787.4 466.3 L790.9 473.3 L794.6 478.5 L797.6 477.8 L802.1 480.8 L806.6 482.0 L811.0 479.3 L815.5 473.3 L819.2 475.6 L826.7 479.3 L833.4 482.3 L840.8 482.0 L845.0 482.0" fill="none" stroke="#5aa9e6" stroke-width="1.2"/>
<rect x="608.6" y="458.5" width="237" height="39.5" fill="#6685c2" fill-opacity="0.3"/>
<rect x="608" y="458" width="1" height="55" fill="#cccccc"/>
<!-- scrollbar -->
<rect x="24.7" y="498" width="821" height="14" fill="#f2f2f2"/>
<rect x="608.6" y="498" width="237" height="14" fill="#cccccc"/>
<rect x="10.5" y="498.5" width="14" height="14" fill="#e6e6e6" stroke="#cccccc"/>
<rect x="845.5" y="498" width="14.5" height="14.5" fill="#e6e6e6"/>
<path d="M16.3 506.4 L19.3 503.9 L19.3 508.9 Z" fill="#333"/>
<path d="M855.5 506.3 L852 503.5 L852 509.2 Z" fill="#333"/>
<rect x="724" y="502" width="1" height="6" fill="#333"/><rect x="727" y="502" width="1" height="6" fill="#333"/><rect x="730" y="502" width="1" height="6" fill="#333"/>
<rect x="604.5" y="470.5" width="8" height="15" rx="1" fill="#f2f2f2" stroke="#a0a0a0"/>
<rect x="607" y="474" width="1" height="8" fill="#777"/><rect x="609" y="474" width="1" height="8" fill="#777"/>
<rect x="841.5" y="470.5" width="8" height="15" rx="1" fill="#f2f2f2" stroke="#a0a0a0"/>
<rect x="844" y="474" width="1" height="8" fill="#777"/><rect x="846" y="474" width="1" height="8" fill="#777"/>
<!-- inputs -->
<rect x="638.5" y="12.5" width="94" height="21" fill="#fff" stroke="#cccccc"/>
<rect x="766.5" y="12.5" width="94" height="21" fill="#fff" stroke="#cccccc"/>
<rect x="638" y="12" width="90" height="17" fill="#fff" stroke="#bbbbbb" stroke-width="2"/>
<rect x="691" y="13" width="1" height="15" fill="#333"/>
</svg>
<div class="obox" style="left:5px;top:2px;width:319px;height:42px;"></div>
<div class="obox" style="left:592px;top:2px;width:280px;height:40px;"></div>
<div class="obox" style="left:13px;top:449px;width:850px;height:66px;"></div>
<div class="btn" style="left:49px;"></div>
<div class="btn" style="left:86px;"></div>
<div class="btn" style="left:123px;"></div>
<div class="btn" style="left:160px;"></div>
<div class="btn" style="left:197px;"></div>
<div class="btn" style="left:234px;"></div>
<div class="btn" style="left:271px;"></div>
<svg width="876" height="523" viewBox="0 0 876 523" style="position:absolute;left:0;top:0;"><text transform="translate(10.8,26.6) scale(1.1,1)" font-family="Liberation Sans" font-size="12.2" fill="#666" font-weight="normal" text-anchor="start">Zoom</text><text transform="translate(65.6,26) scale(1.2,1)" font-family="Liberation Sans" font-size="12" fill="#333" font-weight="normal" text-anchor="middle">1d</text><text transform="translate(102.4,26) scale(1.08,1)" font-family="Liberation Sans" font-size="12" fill="#333" font-weight="normal" text-anchor="middle">7d</text><text transform="translate(139.5,26) scale(1.11,1)" font-family="Liberation Sans" font-size="12" fill="#333" font-weight="normal" text-anchor="middle">1m</text><text transform="translate(176.1,26) scale(1.19,1)" font-family="Liberation Sans" font-size="12" fill="#333" font-weight="normal" text-anchor="middle">3m</text><text transform="translate(214,26) scale(1.0,1)" font-family="Liberation Sans" font-size="12" fill="#333" font-weight="normal" text-anchor="middle">1y</text><text transform="translate(250,26) scale(1.05,1)" font-family="Liberation Sans" font-size="12" fill="#333" font-weight="normal" text-anchor="middle">YTD</text><text transform="translate(287.4,26) scale(1.01,1)" font-family="Liberation Sans" font-size="12" fill="#333" font-weight="normal" text-anchor="middle">ALL</text><text transform="translate(600.6,25.5) scale(1.15,1)" font-family="Liberation Sans" font-size="11.5" fill="#666" font-weight="normal" text-anchor="start">From</text><text transform="translate(744.2,25.2) scale(1.13,1)" font-family="Liberation Sans" font-size="11.5" fill="#666" font-weight="normal" text-anchor="start">To</text><text transform="translate(646.2,25) scale(1.03,1)" font-family="Liberation Sans" font-size="13" fill="#666" font-weight="normal" text-anchor="start">2017&#8211;04&#8211;14</text><text transform="translate(774.6,25.2) scale(1.145,1)" font-family="Liberation Sans" font-size="11.5" fill="#666" font-weight="normal" text-anchor="start">Jun 19, 2018</text><text transform="translate(422.6,188.6) scale(1.23,1)" font-family="Liberation Sans" font-size="9" fill="#333" font-weight="normal" text-anchor="start">Sunday, Mar 18 2018, 04:09:02 UTC+05:30</text><circle cx="428.4" cy="200.6" r="3.8" fill="#5cade6"/><text transform="translate(437.9,204.6) scale(1.145,1)" font-family="Liberation Sans" font-size="12" fill="#333" font-weight="normal" text-anchor="start">Market Cap:</text><text transform="translate(518.6,204.6) scale(1.22,1)" font-family="Liberation Sans" font-size="12" fill="#333" font-weight="bold" text-anchor="start">3,158,574,340 USD</text><circle cx="428.4" cy="216.6" r="3.8" fill="#0a9a6b"/><text transform="translate(437.9,220.6) scale(1.06,1)" font-family="Liberation Sans" font-size="12" fill="#333" font-weight="normal" text-anchor="start">Price (USD):</text><text transform="translate(516.0,220.6) scale(1.195,1)" font-family="Liberation Sans" font-size="12" fill="#333" font-weight="bold" text-anchor="start">199.46</text><circle cx="428.4" cy="232.6" r="3.8" fill="#ff9c00"/><text transform="translate(437.9,236.6) scale(1.09,1)" font-family="Liberation Sans" font-size="12" fill="#333" font-weight="normal" text-anchor="start">Price (BTC):</text><text transform="translate(514.0,236.6) scale(1.26,1)" font-family="Liberation Sans" font-size="12" fill="#333" font-weight="bold" text-anchor="start">0.02492170</text><circle cx="428.4" cy="248.6" r="3.8" fill="#777"/><text transform="translate(437.9,252.6) scale(1.17,1)" font-family="Liberation Sans" font-size="12" fill="#333" font-weight="normal" text-anchor="start">24h Vol:</text><text transform="translate(495.8,252.6) scale(1.18,1)" font-family="Liberation Sans" font-size="12" fill="#333" font-weight="bold" text-anchor="start">50,054,400 USD</text><text transform="translate(43.8,424) scale(1.09,1)" font-family="Liberation Sans" font-size="11" fill="#666" font-weight="normal" text-anchor="middle">May &#39;17</text><text transform="translate(104.6,424) scale(1.09,1)" font-family="Liberation Sans" font-size="11" fill="#666" font-weight="normal" text-anchor="middle">Jun &#39;17</text><text transform="translate(161.6,424) scale(1.09,1)" font-family="Liberation Sans" font-size="11" fill="#666" font-weight="normal" text-anchor="middle">Jul &#39;17</text><text transform="translate(222.6,424) scale(1.09,1)" font-family="Liberation Sans" font-size="11" fill="#666" font-weight="normal" text-anchor="middle">Aug &#39;17</text><text transform="translate(283.5,424) scale(1.09,1)" font-family="Liberation Sans" font-size="11" fill="#666" font-weight="normal" text-anchor="middle">Sep &#39;17</text><text transform="translate(342.4,424) scale(1.09,1)" font-family="Liberation Sans" font-size="11" fill="#666" font-weight="normal" text-anchor="middle">Oct &#39;17</text><text transform="translate(404.1,424) scale(1.09,1)" font-family="Liberation Sans" font-size="11" fill="#666" font-weight="normal" text-anchor="middle">Nov &#39;17</text><text transform="translate(462.3,424) scale(1.09,1)" font-family="Liberation Sans" font-size="11" fill="#666" font-weight="normal" text-anchor="middle">Dec &#39;17</text><text transform="translate(523.8,424) scale(1.09,1)" font-family="Liberation Sans" font-size="11" fill="#666" font-weight="normal" text-anchor="middle">Jan &#39;18</text><text transform="translate(584.8,424) scale(1.09,1)" font-family="Liberation Sans" font-size="11" fill="#666" font-weight="normal" text-anchor="middle">Feb &#39;18</text><text transform="translate(639.6,424) scale(1.09,1)" font-family="Liberation Sans" font-size="11" fill="#666" font-weight="normal" text-anchor="middle">Mar &#39;18</text><text transform="translate(700.7,424) scale(1.09,1)" font-family="Liberation Sans" font-size="11" fill="#666" font-weight="normal" text-anchor="middle">Apr &#39;18</text><text transform="translate(759.9,424) scale(1.09,1)" font-family="Liberation Sans" font-size="11" fill="#666" font-weight="normal" text-anchor="middle">May &#39;18</text><text transform="translate(820.6,424) scale(1.09,1)" font-family="Liberation Sans" font-size="11" fill="#666" font-weight="normal" text-anchor="middle">Jun &#39;18</text><text transform="translate(150.6,494) scale(1.23,1)" font-family="Liberation Sans" font-size="10" fill="#999" font-weight="normal" text-anchor="start">2015</text><text transform="translate(352,494) scale(1.23,1)" font-family="Liberation Sans" font-size="10" fill="#999" font-weight="normal" text-anchor="start">2016</text><text transform="translate(553,494) scale(1.23,1)" font-family="Liberation Sans" font-size="10" fill="#999" font-weight="normal" text-anchor="start">2017</text><text transform="translate(754.2,494) scale(1.23,1)" font-family="Liberation Sans" font-size="10" fill="#999" font-weight="normal" text-anchor="start">2018</text></svg>
</body></html>
